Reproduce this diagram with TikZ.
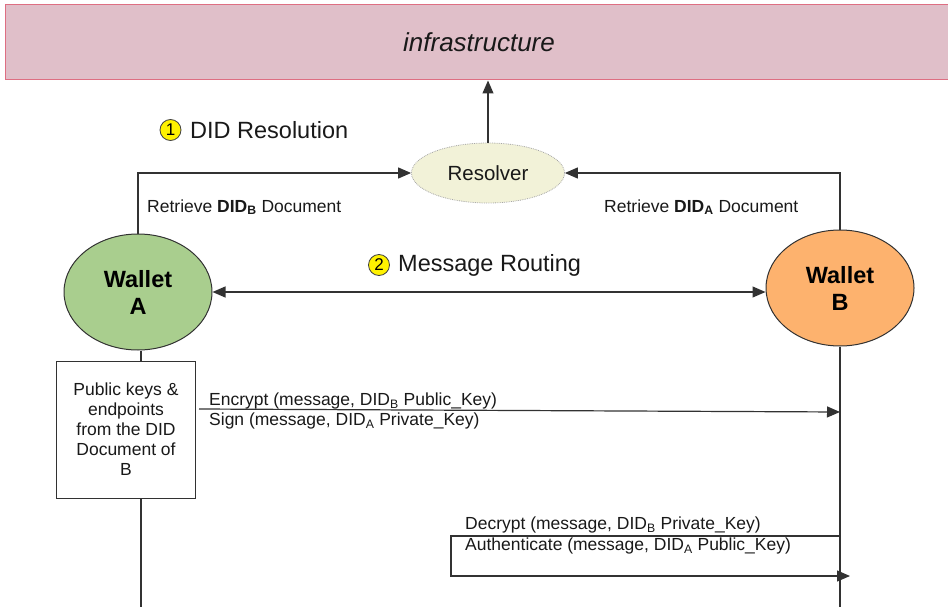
\documentclass[tikz,border=0pt]{standalone}
\usepackage{fontspec}
\setmainfont{Liberation Sans}
\usetikzlibrary{arrows.meta,shapes.geometric,calc}
\definecolor{infrafill}{RGB}{224,191,201}
\definecolor{infradraw}{RGB}{222,110,130}
\definecolor{resfill}{RGB}{242,242,216}
\definecolor{walAfill}{RGB}{169,206,142}
\definecolor{walBfill}{RGB}{253,178,110}
\definecolor{ln}{RGB}{50,50,50}
\definecolor{txt}{RGB}{25,25,25}
\tikzset{
 conn/.style={draw=ln,line width=1.2pt},
 arr/.style={conn,-{Triangle[length=13pt,width=11pt]}},
 arrboth/.style={conn,{Triangle[length=13pt,width=11pt]}-{Triangle[length=13pt,width=11pt]}},
 lbl/.style={font=\fontsize{17.5}{20}\selectfont,anchor=west,inner sep=0pt,text=txt},
 bigl/.style={font=\fontsize{23.5}{27}\selectfont,anchor=west,inner sep=0pt,text=txt},
 numc/.style={circle,fill=yellow,draw=black!75,line width=0.8pt,minimum size=21pt,inner sep=0pt,font=\fontsize{17}{17}\selectfont},
 wallet/.style={ellipse,draw=ln,line width=1pt,minimum width=148pt,minimum height=116pt,align=center,font=\bfseries\fontsize{23.5}{27}\selectfont,inner sep=0pt},
}
\begin{document}
\begin{tikzpicture}[x=1pt,y=-1pt]
\useasboundingbox (0,0) rectangle (948,607);
% infrastructure
\node[draw=infradraw,fill=infrafill,line width=1pt,minimum width=948pt,minimum height=75pt,inner sep=0pt,
  font=\itshape\fontsize{26}{30}\selectfont,text=txt] (infra) at (479,42.5) {infrastructure};
% resolver
\node[ellipse,fill=resfill,draw=gray!70,densely dotted,line width=0.8pt,minimum width=153pt,minimum height=60pt,inner sep=0pt,
  font=\fontsize{20.5}{24}\selectfont,text=txt] (resolver) at (488,173) {Resolver};
% wallets
\node[wallet,fill=walAfill] (walletA) at (138,292) {Wallet\\A};
\node[wallet,fill=walBfill] (walletB) at (840,288) {Wallet\\B};
% public keys box
\node[draw=ln,line width=1pt,fill=white,minimum width=139pt,minimum height=137pt,inner sep=0pt,align=center,
  font=\fontsize{17.5}{20}\selectfont,text=txt] (pub) at (126,429.5) {Public keys \&\\endpoints\\from the DID\\Document of\\B};
% section titles
\node[numc] (n1) at (170.5,130) {1};
\node[bigl] (t1) at (190,130) {DID Resolution};
\node[numc] (n2) at (379,265) {2};
\node[bigl] (t2) at (398,265) {Message Routing};
% resolution connectors
\draw[arr] (walletA.north) |- (resolver.west);
\draw[arr] (walletB.north) |- (resolver.east);
\draw[arr] (resolver.north) -- (resolver.north |- infra.south);
\node[lbl] (r1) at (147,207) {Retrieve \textbf{DID\textsubscript{B}} Document};
\node[lbl] (r2) at (604,207) {Retrieve \textbf{DID\textsubscript{A}} Document};
% message routing
\draw[arrboth] (walletA.east) -- (walletA.east -| walletB.west);
% lifelines
\coordinate (aend) at (141,607);
\coordinate (bend) at (840,607);
\draw[conn] (walletA.south -| aend) -- (pub.north -| aend);
\draw[conn] (pub.south -| aend) -- (aend);
\draw[conn] (walletB.south) -- (bend);
% encrypt
\coordinate (e1) at (199,409);
\coordinate (e2) at (840,412);
\draw[arr] (e1) -- (e2);
\node[lbl] (enc) at (209,401) {Encrypt (message, DID\textsubscript{B} Public\_Key)};
\node[lbl] (sig) at (209,421) {Sign (message, DID\textsubscript{A} Private\_Key)};
% decrypt
\coordinate (d1) at (840,536);
\coordinate (d2) at (451,536);
\coordinate (d3) at (451,576);
\coordinate (d4) at (850,576);
\draw[arr] (d1) -- (d2) -- (d3) -- (d4);
\node[lbl] (dec) at (465,525) {Decrypt (message, DID\textsubscript{B} Private\_Key)};
\node[lbl] (aut) at (465,546) {Authenticate (message, DID\textsubscript{A} Public\_Key)};
\end{tikzpicture}
\end{document}
